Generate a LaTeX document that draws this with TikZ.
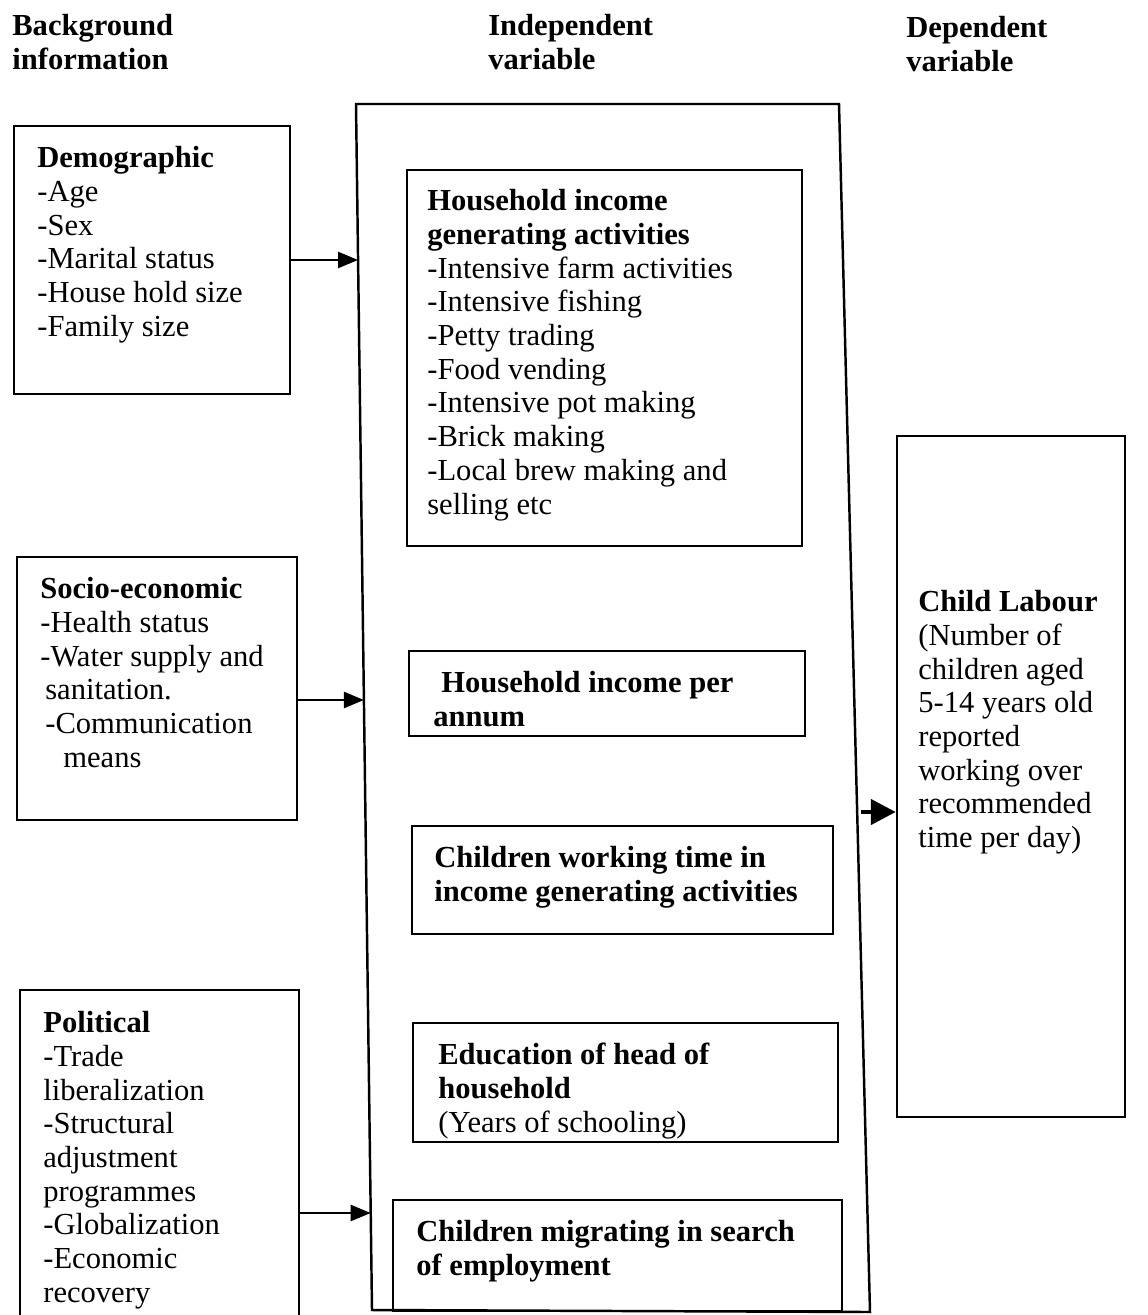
\documentclass[tikz,border=0pt]{standalone}
\usepackage{fontspec}
\setmainfont{Liberation Serif}
\usetikzlibrary{arrows.meta, positioning, fit, calc}

\begin{document}
\begin{tikzpicture}[x=0.02cm, y=-0.02cm,
    box/.style={draw, line width=1.4pt, inner sep=0pt},
    txt/.style={anchor=north west, inner sep=0pt, align=left, font=\fontsize{17.4}{19.2}\selectfont},
    head/.style={txt, font=\fontsize{17.4}{19.2}\selectfont\bfseries},
    arrow/.style={-{Triangle[length=4mm, width=3.2mm]}, line width=1.4pt},
    bigarrow/.style={-{Triangle[length=5mm, width=5mm]}, line width=2.6pt},
]
\clip (0,0) rectangle (1147,1315);

% Column headings
\node[head] (hbg) at (12,14) {Background\\information};
\node[head] (hiv) at (488,14) {Independent\\variable};
\node[head] (hdv) at (906,16) {Dependent\\variable};

% Background information
\node[box, fit={(14,126) (290,394)}] (demo) {};
\node[txt] (demotxt) at (37,146) {\textbf{Demographic}\\-Age\\-Sex\\-Marital status\\-House hold size\\-Family size};

\node[box, fit={(17,557) (297,820)}] (socio) {};
\node[txt] (sociotxt) at (40,577) {\textbf{Socio-economic}\\-Health status\\-Water supply and\\\hspace*{0.1cm}sanitation.\\\hspace*{0.1cm}-Communication\\\hspace*{0.46cm}means};

\node[box, fit={(20,990) (299,1340)}] (polit) {};
\node[txt] (polittxt) at (43,1011) {\textbf{Political}\\-Trade\\liberalization\\-Structural\\adjustment\\programmes\\-Globalization\\-Economic\\recovery};

% Independent variable frame
\coordinate (ivnw) at (356,104);
\coordinate (ivne) at (839,104);
\coordinate (ivse) at (870,1312);
\coordinate (ivsw) at (372,1310);
\draw[line width=1.4pt] (ivnw) -- (ivne) -- (ivse) -- (ivsw) -- cycle;

\node[box, fit={(407,170) (802,546)}] (hgia) {};
\node[txt] (hgiatxt) at (427,189) {\textbf{Household income}\\\textbf{generating activities}\\-Intensive farm activities\\-Intensive fishing\\-Petty trading\\-Food vending\\-Intensive pot making\\-Brick making\\-Local brew making and\\selling etc};

\node[box, fit={(409,651) (805,736)}] (income) {};
\node[head] (incometxt) at (433,671) {\hspace*{0.16cm}Household income per\\annum};

\node[box, fit={(412,826) (833,934)}] (worktime) {};
\node[head] (worktimetxt) at (434,846) {Children working time in\\income generating activities};

\node[box, fit={(413,1023) (838,1142)}] (educ) {};
\node[txt] (eductxt) at (438,1043) {\textbf{Education of head of}\\\textbf{household}\\(Years of schooling)};

\node[box, fit={(393,1200) (842,1311)}] (migr) {};
\node[head] (migrtxt) at (416,1220) {Children migrating in search\\of employment};

% Dependent variable
\node[box, fit={(897,436) (1125,1117)}] (dep) {};
\node[txt] (deptxt) at (918,590) {\textbf{Child Labour}\\(Number of\\children aged\\5-14 years old\\reported\\working over\\recommended\\time per day)};

% Arrows
\coordinate (demoin) at ($(ivnw)!{(260-104)/1206}!(ivsw)$);
\coordinate (socioin) at ($(ivnw)!{(700-104)/1206}!(ivsw)$);
\coordinate (politin) at ($(ivnw)!{(1213-104)/1206}!(ivsw)$);
\coordinate (ivout) at ($(ivne)!{(812-104)/1208}!(ivse)$);

\draw[arrow] (demo.east |- demoin) -- (demoin);
\draw[arrow] (socio.east |- socioin) -- (socioin);
\draw[arrow] (polit.east |- politin) -- (politin);
\draw[bigarrow, shorten <=2pt] (ivout) -- (dep.west |- ivout);

\end{tikzpicture}
\end{document}
